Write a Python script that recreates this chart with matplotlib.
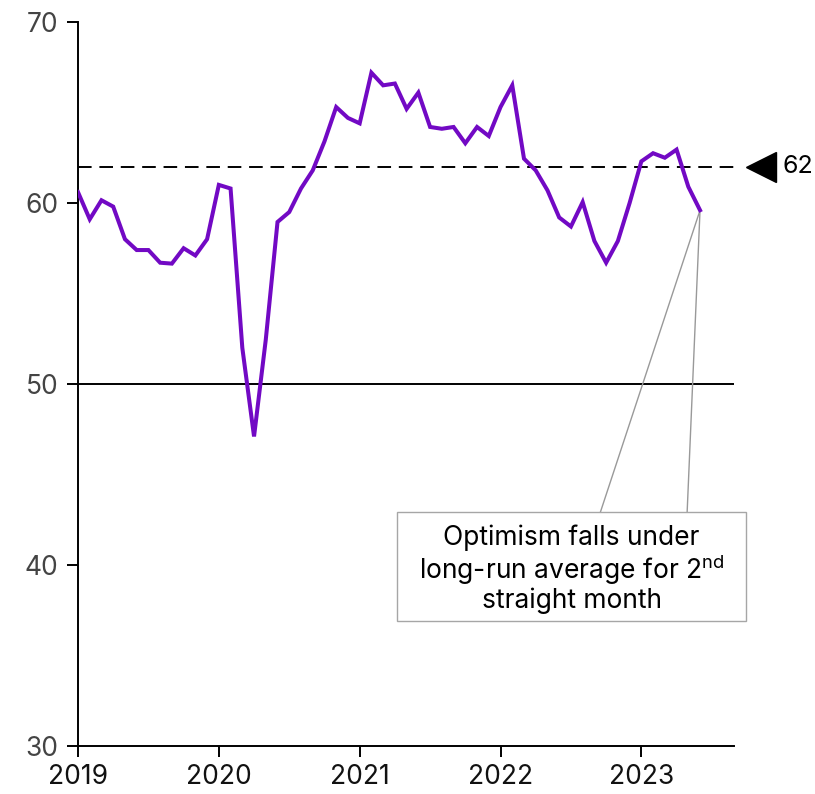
import matplotlib
matplotlib.use("Agg")
import matplotlib.pyplot as plt
from matplotlib.patches import Rectangle
import numpy as np

plt.rcParams['font.family'] = ['Inter', 'DejaVu Sans']
plt.rcParams['mathtext.fontset'] = 'custom'
plt.rcParams['mathtext.rm'] = 'Inter'

# monthly index, Jan 2019 .. Jun 2023
values = [
    60.6, 59.1, 60.15, 59.8, 58.0, 57.4, 57.4, 56.7, 56.65, 57.5, 57.1, 58.0,   # 2019
    61.0, 60.8, 52.0, 47.1, 52.45, 58.95, 59.5, 60.8, 61.8, 63.4, 65.3, 64.7,   # 2020
    64.4, 67.2, 66.5, 66.6, 65.2, 66.1, 64.2, 64.1, 64.2, 63.3, 64.2, 63.7,     # 2021
    65.3, 66.5, 62.45, 61.8, 60.7, 59.2, 58.7, 60.05, 57.9, 56.7, 57.9, 60.0,   # 2022
    62.3, 62.75, 62.5, 62.95, 60.9, 59.6,                                       # 2023
]
years = ['2019', '2020', '2021', '2022', '2023']
long_run_avg = 62
neutral = 50
note = 'Optimism falls under\nlong-run average for 2$^{\\rm nd}$\nstraight month'

x = np.arange(len(values))

fig = plt.figure(figsize=(8.15, 7.94), dpi=100)
ax = fig.add_axes([0.0957, 0.0605, 0.805, 0.9118])

ax.axhline(neutral, color='black', lw=1.4, zorder=1)
ax.axhline(long_run_avg, color='black', lw=1.4, dashes=(7, 4), zorder=1)
ax.plot(x, values, color='#7209c4', lw=2.9, zorder=3, solid_joinstyle='miter')

ax.set_xlim(0, 55.9)
ax.set_ylim(30, 70)
ax.set_yticks([30, 40, 50, 60, 70])
ax.set_xticks(np.arange(len(years)) * 12)
ax.set_xticklabels(years)

for s in ['top', 'right']:
    ax.spines[s].set_visible(False)
for s in ['left', 'bottom']:
    ax.spines[s].set_linewidth(1.4)

ax.tick_params(axis='y', length=8, width=1.4, labelsize=19, labelcolor='#444444', pad=6)
ax.tick_params(axis='x', length=8, width=1.4, labelsize=19, labelcolor='#111111', pad=5)

# marker for the long-run average, outside the axes
ax.plot([58.2], [long_run_avg], marker='<', markersize=21, color='black', clip_on=False)
ax.text(60.0, long_run_avg, str(long_run_avg), fontsize=18, va='center', ha='left')

# callout box
last_x, last_y = x[-1], values[-1]
box_left, box_right = 27.2, 56.9
box_top, box_bottom = 42.9, 36.9
ax.add_patch(Rectangle((box_left, box_bottom), box_right - box_left, box_top - box_bottom,
                       fill=True, facecolor='white', edgecolor='#a6a6a6', lw=1.0,
                       clip_on=False, zorder=4))
ax.plot([44.5, last_x, 51.9], [box_top, last_y, box_top], color='#999999', lw=1.0,
        clip_on=False, zorder=2)
ax.text((box_left + box_right) / 2, (box_top + box_bottom) / 2 - 0.15, note, fontsize=19,
        ha='center', va='center', linespacing=1.05, zorder=5)

fig.savefig('out.png', dpi=100)
